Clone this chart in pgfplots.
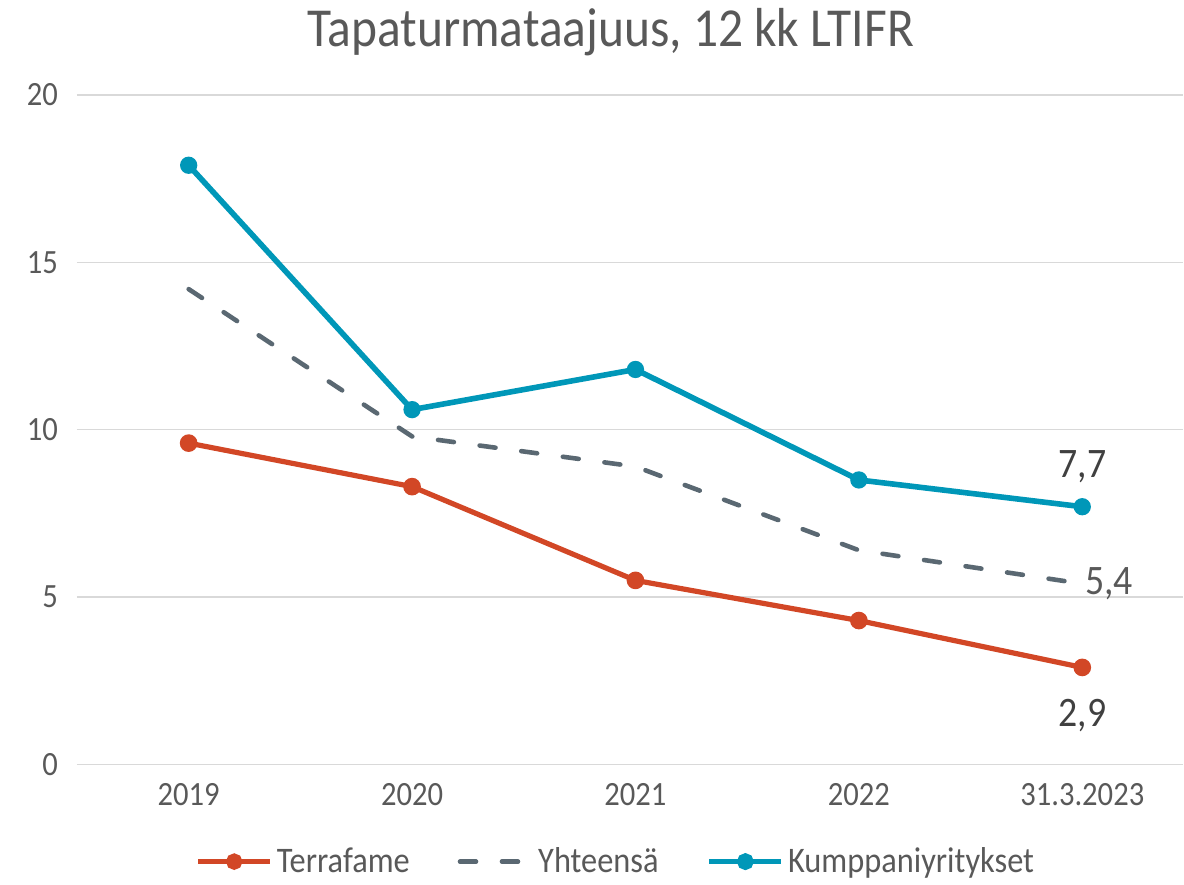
\documentclass[border=0pt]{standalone}
\usepackage{fontspec}
\setmainfont{Carlito}[FakeStretch=0.9]
\usepackage{pgfplots}
\pgfplotsset{compat=1.18}
\usetikzlibrary{calc}
\definecolor{cRed}{HTML}{D24726}
\definecolor{cTeal}{HTML}{0097B8}
\definecolor{cDash}{HTML}{5A6872}
\definecolor{cGrid}{HTML}{D9D9D9}
\definecolor{cText}{HTML}{595959}
\definecolor{cLab}{HTML}{404040}
\begin{document}
\begin{tikzpicture}
\begin{axis}[
  scale only axis,
  width=553.5bp, height=335bp,
  xmin=-0.5, xmax=4.452,
  ymin=0, ymax=20,
  ytick={0,5,10,15,20},
  xtick={0,1,2,3,4},
  xticklabels={2019,2020,2021,2022,31.3.2023},
  ymajorgrids,
  grid style={cGrid, line width=0.75bp},
  axis line style={draw=none},
  major tick length=0pt,
  /pgf/number format/assume math mode=true,
  tick label style={font=\fontsize{17bp}{20bp}\selectfont, text=cText},
  yticklabel style={xshift=-6bp},
  xticklabel style={yshift=-6bp},
  clip=false,
  legend columns=3,
  legend style={draw=none, fill=none, at={(0.488,-0.145)}, anchor=center,
    font=\fontsize{18bp}{21bp}\selectfont, text=cText,
    /tikz/every even column/.append style={column sep=22bp}},
  legend image code/.code={\draw[mark repeat=2,mark phase=2,#1,mark size=2.8bp] plot coordinates {(0bp,0bp) (18bp,0bp) (36bp,0bp)};},
]
\addplot[cRed, line width=2.6bp, mark=*, mark size=3.1bp, mark options={solid, fill=cRed, draw=cRed}]
  coordinates {(0,9.6) (1,8.3) (2,5.5) (3,4.3) (4,2.9)};
\addlegendentry{Terrafame}
\addplot[cDash, line width=2.3bp, line cap=round, dash pattern=on 8bp off 13bp]
  coordinates {(0,14.2) (1,9.8) (2,8.9) (3,6.4) (4,5.4)};
\addlegendentry{Yhteensä}
\addplot[cTeal, line width=2.8bp, mark=*, mark size=2.9bp, mark options={solid, fill=cTeal, draw=cTeal}]
  coordinates {(0,17.9) (1,10.6) (2,11.8) (3,8.5) (4,7.7)};
\addlegendentry{Kumppaniyritykset}
\node[font=\fontsize{21bp}{24bp}\selectfont, text=cLab] at (axis cs:4,7.7) [yshift=20bp] {7,7};
\node[font=\fontsize{21bp}{24bp}\selectfont, text=cText, anchor=west] at (axis cs:4,5.4) [xshift=-2bp] {5,4};
\node[font=\fontsize{21bp}{24bp}\selectfont, text=cLab] at (axis cs:4,2.9) [yshift=-24bp] {2,9};
\node[font=\fontsize{27.5bp}{32bp}\selectfont, text=cText, anchor=base] at (rel axis cs:0.4824,1) [yshift=24bp] {Tapaturmataajuus, 12 kk LTIFR};
\end{axis}
\path (current axis.south west) ++(-38.5bp,-60bp) coordinate (bbA);
\path (current axis.north east) ++(0bp,47.5bp) coordinate (bbB);
\useasboundingbox (bbA) rectangle (bbB);
\end{tikzpicture}
\end{document}
